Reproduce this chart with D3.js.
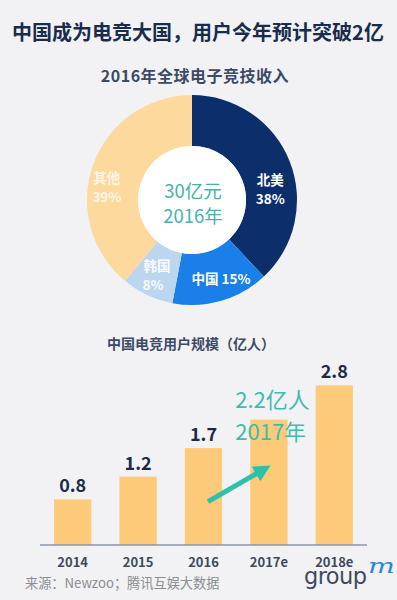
<!DOCTYPE html>
<html><head><meta charset="utf-8">
<script src="https://cdn.jsdelivr.net/npm/d3@7"></script>
<style>
html,body{margin:0;padding:0;background:#f2f2f4;}
svg{display:block;font-family:"Noto Sans CJK SC","Noto Sans",sans-serif;}
</style></head>
<body>
<script>
// ---- data ----
const regions = ["北美", "中国", "韩国", "其他"];
const shares = [38, 15, 8, 39];
const regionColors = ["#0c2f6c", "#1a7fe8", "#bdd6ef", "#fdd99d"];
const centerLines = ["30亿元", "2016年"];

const years = ["2014", "2015", "2016", "2017e", "2018e"];
const users = [0.8, 1.2, 1.7, 2.2, 2.8];
const valueLabels = ["0.8", "1.2", "1.7", "", "2.8"];
const highlight = ["2.2亿人", "2017年"];

const W = 397, H = 600;
const svg = d3.select("body").append("svg").attr("width", W).attr("height", H);
svg.append("rect").attr("width", W).attr("height", H).attr("fill", "#f2f2f4");

// titles
svg.append("text").attr("x", 198).attr("y", 40).attr("text-anchor", "middle")
  .attr("font-size", 20).attr("font-weight", 700).attr("fill", "#182c4e")
  .text("中国成为电竞大国，用户今年预计突破2亿");
svg.append("text").attr("x", 195).attr("y", 82).attr("text-anchor", "middle")
  .attr("font-size", 16).attr("font-weight", 700).attr("fill", "#3b4a66")
  .attr("letter-spacing", 0.5)
  .text("2016年全球电子竞技收入");

// ---- donut ----
const cx = 192, cy = 200, R = 105, r = 54;
const pie = d3.pie().sort(null).value(d => d)(shares);
const arc = d3.arc().innerRadius(r).outerRadius(R);
const g = svg.append("g").attr("transform", `translate(${cx},${cy})`);
g.selectAll("path").data(pie).join("path")
  .attr("d", arc).attr("fill", (d, i) => regionColors[i]);
g.append("circle").attr("r", r).attr("fill", "#ffffff");

const labelArc = d3.arc().innerRadius(82).outerRadius(82);
const labelOffsets = [[2, 20], [6, 0], [0, 2], [-8, 16]];
pie.forEach((d, i) => {
  const [lx, ly] = labelArc.centroid(d);
  const x = lx + labelOffsets[i][0], y = ly + labelOffsets[i][1];
  const col = i === 3 ? "rgba(255,255,255,0.8)" : (i === 2 ? "rgba(255,255,255,0.9)" : "#ffffff");
  const t = g.append("text").attr("text-anchor", "middle").attr("font-size", 13.5)
    .attr("font-weight", 700).attr("fill", col);
  if (i === 1) {
    t.attr("x", x).attr("y", y + 5).text(regions[i] + " " + shares[i] + "%");
  } else {
    t.append("tspan").attr("x", x).attr("y", y - 5).text(regions[i]);
    t.append("tspan").attr("x", i === 2 ? x - 4 : x).attr("y", y + 14).text(shares[i] + "%");
  }
});
centerLines.forEach((s, i) => {
  g.append("text").attr("x", 1).attr("y", -2 + i * 25).attr("text-anchor", "middle")
    .attr("font-size", 18.5).attr("fill", "#45b3ab").text(s);
});

// ---- bar chart ----
svg.append("text").attr("x", 191).attr("y", 349).attr("text-anchor", "middle")
  .attr("font-size", 14).attr("font-weight", 700).attr("fill", "#3b4a66")
  .text("中国电竞用户规模（亿人）");

const x = d3.scaleBand().domain(years).range([40, 367]).paddingInner(0.43).paddingOuter(0.215);
const y = d3.scaleLinear().domain([0, 3]).range([545, 374]);

svg.selectAll("rect.bar").data(users).join("rect").attr("class", "bar")
  .attr("x", (d, i) => x(years[i])).attr("width", x.bandwidth())
  .attr("y", d => y(d)).attr("height", d => y(0) - y(d))
  .attr("fill", "#fdca7a");

svg.selectAll("text.val").data(users).join("text").attr("class", "val")
  .attr("x", (d, i) => x(years[i]) + x.bandwidth() / 2)
  .attr("y", d => y(d) - 7).attr("text-anchor", "middle")
  .attr("font-size", 18).attr("font-weight", 700).attr("fill", "#1c2b45")
  .text((d, i) => valueLabels[i]);

const axis = svg.append("g").attr("transform", `translate(0,${y(0)})`)
  .call(d3.axisBottom(x).tickSize(0).tickPadding(13));
axis.select(".domain").attr("d", "M40,0H367").attr("stroke", "#8c95a6").attr("stroke-width", 1.5);
axis.selectAll("text").attr("font-size", 13).attr("font-weight", 700).attr("fill", "#3d4a5e")
  .attr("font-family", '"Noto Sans CJK SC","Noto Sans",sans-serif');

// annotation
const hx = x("2017e");
svg.append("text").attr("x", hx - 15).attr("y", y(2.55) + 8)
  .attr("font-size", 22).attr("fill", "#3fbcae").text(highlight[0]);
svg.append("text").attr("x", hx - 15).attr("y", y(1.98) + 8)
  .attr("font-size", 22).attr("fill", "#3fbcae").text(highlight[1]);

svg.append("defs").append("marker").attr("id", "ah").attr("viewBox", "0 0 10 10")
  .attr("refX", 5).attr("refY", 5).attr("markerWidth", 3.4).attr("markerHeight", 3.4)
  .attr("orient", "auto").append("path").attr("d", "M0,0L10,5L0,10z").attr("fill", "#2fbfab");
svg.append("line")
  .attr("x1", x("2016") + x.bandwidth() * 0.62).attr("y1", y(0.76))
  .attr("x2", x("2017e") + x.bandwidth() * 0.35).attr("y2", y(1.32))
  .attr("stroke", "#2fbfab").attr("stroke-width", 5).attr("marker-end", "url(#ah)");

// footer
svg.append("text").attr("x", 25).attr("y", 588).attr("font-size", 13.2).attr("fill", "#8a8d93")
  .text("来源：Newzoo；腾讯互娱大数据");
svg.append("text").attr("x", 304).attr("y", 584).attr("font-size", 22.5)
  .attr("font-family", '"DejaVu Sans",sans-serif').attr("fill", "#3e4b5e")
  .attr("letter-spacing", -0.6).text("group");
svg.append("text").attr("transform", "translate(368,573) scale(1.35,1)").attr("font-size", 21)
  .attr("font-style", "italic").attr("font-family", '"DejaVu Serif",serif').attr("fill", "#2b8ad8")
  .text("m");
</script>
</body></html>
